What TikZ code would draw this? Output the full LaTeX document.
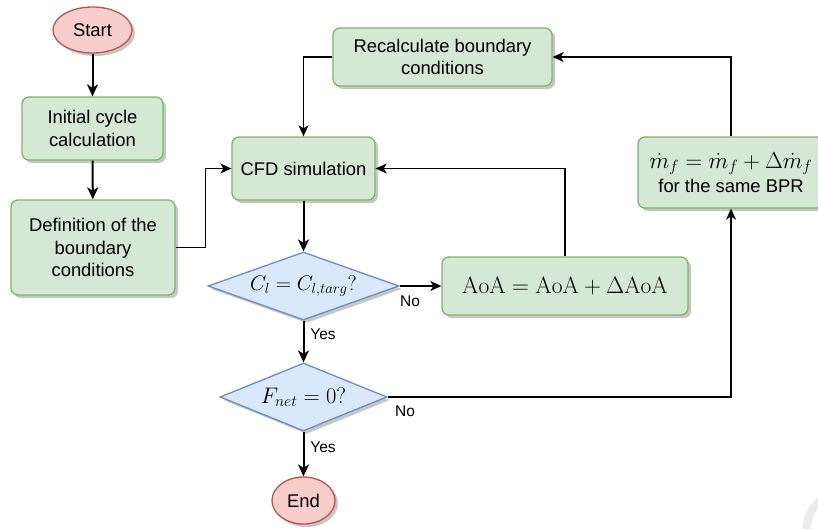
\RequirePackage{fix-cm}
\documentclass[tikz,border=0pt]{standalone}
\usepackage[no-math]{fontspec}
\setmainfont{Liberation Sans}
\usetikzlibrary{shapes.geometric,shadows,arrows.meta}
\definecolor{gfill}{HTML}{D5E8D4}
\definecolor{gline}{HTML}{82B366}
\definecolor{rfill}{HTML}{F8CECC}
\definecolor{rline}{HTML}{B85450}
\definecolor{bfill}{HTML}{DAE8FC}
\definecolor{bline}{HTML}{6C8EBF}
\begin{document}
\begin{tikzpicture}[x=1pt,y=-1pt,
  font=\fontsize{18.4}{22.5}\selectfont,
  shade/.style={drop shadow={shadow xshift=3pt,shadow yshift=-3pt,fill=black!22,opacity=1}},
  box/.style={shade,draw=gline,fill=gfill,line width=1.3pt,rounded corners=7pt,inner sep=0pt,align=center},
  term/.style={shade,ellipse,draw=rline,fill=rfill,line width=1.3pt,inner sep=0pt},
  decision/.style={shade,diamond,draw=bline,fill=bfill,line width=1.3pt,inner sep=0pt},
  lbl/.style={font=\fontsize{15.5}{18}\selectfont,inner sep=0pt},
  arr/.style={line width=2pt,-{Stealth[length=12pt,width=11pt,inset=3.5pt]}},
  arrthin/.style={line width=1.3pt,-{Stealth[length=11pt,width=10pt,inset=3pt]}}
]
\useasboundingbox (0,0) rectangle (818,528);
\fill[white] (0,0) rectangle (818,528);

\node[term,minimum width=79pt,minimum height=46pt] (start) at (92.5,30) {Start};
\node[box,minimum width=141pt,minimum height=63pt] (init) at (92.5,128.5) {Initial cycle\\calculation};
\node[box,minimum width=164pt,minimum height=95pt] (def) at (93,247.5) {Definition of the\\boundary\\conditions};
\node[box,minimum width=143pt,minimum height=63pt] (cfd) at (303.5,168.5) {CFD simulation};
\node[decision,aspect=2.8,minimum width=191pt,minimum height=68pt,font=\fontsize{21}{24}\selectfont] (d1) at (303.5,286) {$C_l = C_{l,targ}?$};
\node[box,minimum width=246pt,minimum height=58pt,font=\fontsize{23.5}{26}\selectfont] (aoa) at (565,286) {$\mathrm{AoA} = \mathrm{AoA} + \Delta\mathrm{AoA}$};
\node[decision,aspect=2.46,minimum width=167pt,minimum height=68pt,font=\fontsize{22.5}{26}\selectfont] (d2) at (303.5,397) {$F_{net} = 0?$};
\node[term,minimum width=63pt,minimum height=47pt] (end) at (303.5,500.5) {End};
\node[box,minimum width=186pt,minimum height=71pt] (mdot) at (731,172.5) {{\fontsize{23}{26}\selectfont$\dot m_f = \dot m_f + \Delta \dot m_f$}\\[2pt]for the same BPR};
\node[box,minimum width=219pt,minimum height=58pt] (recalc) at (442.5,57) {Recalculate boundary\\conditions};

\draw[arr] (start) -- (init);
\draw[arr] (init) -- (def);
\draw[arrthin] (def.east) -- ++(30,0) |- (cfd.west);
\draw[arr] (cfd) -- (d1);
\draw[arrthin] (d1.east) -- (aoa.west);
\draw[arrthin] (aoa.north) |- (cfd.east);
\draw[arr] (d1.south) -- (d2.north);
\draw[arrthin] (d2.east) -| (mdot.south);
\draw[arrthin] (mdot.north) |- (recalc.east);
\draw[arrthin] (recalc.west) -| (cfd.north);
\draw[arr] (d2.south) -- (end.north);

\node[lbl] (no1) at (410,301) {No};
\node[lbl] (no2) at (405,411) {No};
\node[lbl] (yes1) at (323,334) {Yes};
\node[lbl] (yes2) at (323,447) {Yes};

\draw[line width=8pt,black!8] (848,532) circle (42);
\end{tikzpicture}
\end{document}
